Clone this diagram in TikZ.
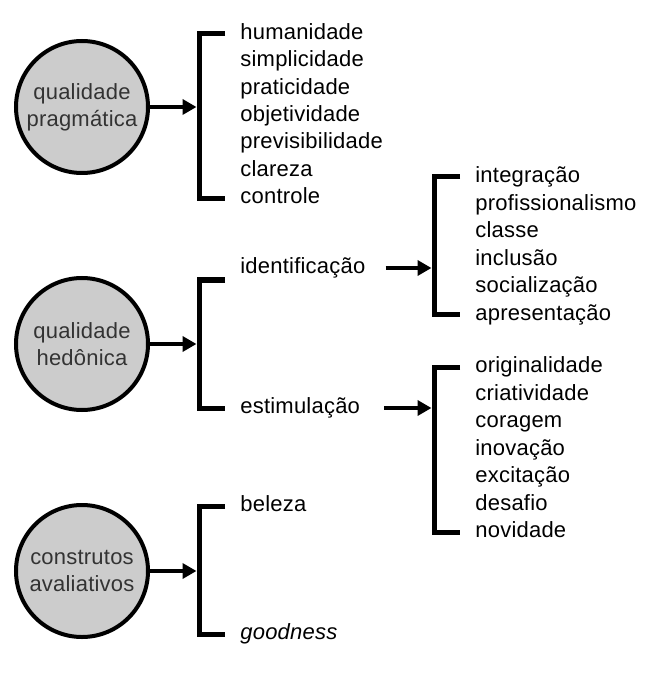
\documentclass[tikz,border=0pt]{standalone}
\usepackage{fontspec}
\setmainfont{Liberation Sans}[LetterSpace=1]
\usepackage{tikz}
\usetikzlibrary{positioning,%
  arrows.meta%
}

\tikzset{
  konstrukt/.style={circle, draw, line width=2pt, fill=gray!40, minimum size=66pt,
    inner sep=0pt, align=center, text=black!80},
  item/.style={anchor=west, inner sep=0pt, text height=7.9pt, text depth=2.3pt},
  klammer/.style={line width=2.5pt, line join=miter},
  pfeil/.style={line width=2pt, -{Triangle[length=7pt,width=7.5pt]}, shorten >=1.25pt}
}

\begin{document}
\begin{tikzpicture}[x=0.5pt, y=-0.5pt, font=\fontsize{11}{13.6}\selectfont]
            % Rahmen
            \useasboundingbox (0,0) rectangle (655,673);

            \node[konstrukt] (prag) at (82,107) {qualidade\\pragmática};
            \node[konstrukt] (hed)  at (82,344) {qualidade\\hedônica};
            \node[konstrukt] (aval) at (82,571) {construtos\\avaliativos};

            % pragmatisch
            \foreach \t [count=\i] in {humanidade,simplicidade,praticidade,objetividade,previsibilidade,clareza,controle}
                \node[item] (p\i) at (240,{34+27.35*(\i-1)}) {\t};
            \draw[klammer] ([xshift=-7.5pt]p1.west) -- ++(-13pt,0) coordinate (k1) |- ([xshift=-7.5pt]p7.west);
            \draw[pfeil] (prag) -- (prag -| k1);

            % hedonisch
            \node[item] (id) at (240,268) {identificação};
            \node[item] (st) at (240,408) {estimulação};
            \draw[klammer] ([xshift=-7.5pt,yshift=-6pt]id.west) -- ++(-13pt,0) coordinate (k2) |- ([xshift=-7.5pt]st.west);
            \draw[pfeil] (hed) -- (hed -| k2);

            \foreach \t [count=\i] in {integração,profissionalismo,classe,inclusão,socialização,apresentação}
                \node[item] (i\i) at (475,{177+27.5*(\i-1)}) {\t};
            \draw[klammer] ([xshift=-7.5pt]i1.west) -- ++(-13pt,0) coordinate (k3) |- ([xshift=-7.5pt]i6.west);
            \draw[pfeil] (id.east) ++(10pt,0) -- (id.east -| k3);

            \foreach \t [count=\i] in {originalidade,criatividade,coragem,inovação,excitação,desafio,novidade}
                \node[item] (s\i) at (475,{367+27.5*(\i-1)}) {\t};
            \draw[klammer] ([xshift=-7.5pt]s1.west) -- ++(-13pt,0) coordinate (k4) |- ([xshift=-7.5pt]s7.west);
            \draw[pfeil] (st.east) ++(12pt,0) -- (st.east -| k4);

            % evaluativ
            \node[item] (bel) at (240,506) {beleza};
            \node[item] (goo) at (240,634) {\itshape goodness};
            \draw[klammer] ([xshift=-7.5pt]bel.west) -- ++(-13pt,0) coordinate (k5) |- ([xshift=-7.5pt]goo.west);
            \draw[pfeil] (aval) -- (aval -| k5);
\end{tikzpicture}
\end{document}
